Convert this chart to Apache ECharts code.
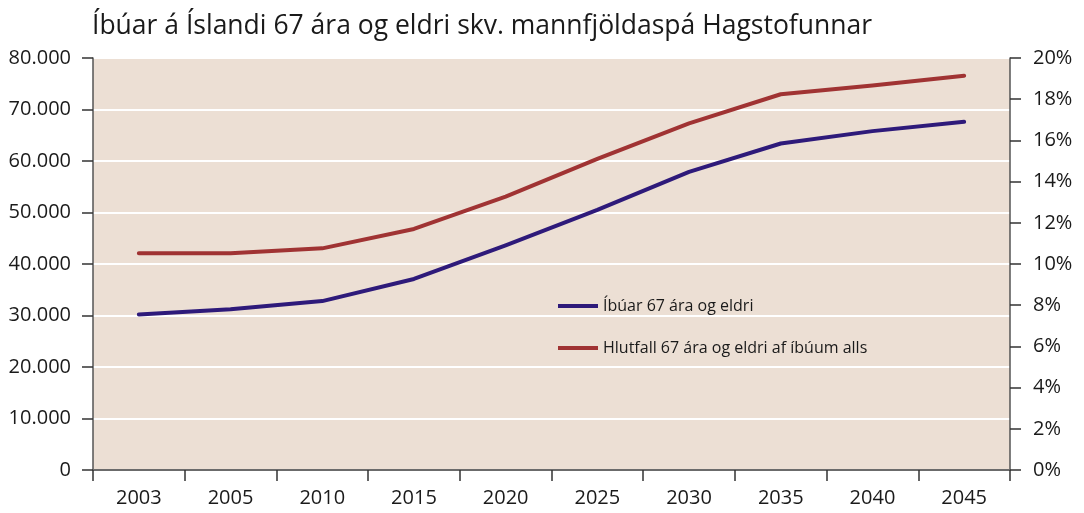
<!DOCTYPE html>
<html>
<head>
<meta charset="utf-8">
<script src="https://cdn.jsdelivr.net/npm/echarts@6/dist/echarts.min.js"></script>
<style>
html,body{margin:0;padding:0;background:#fff;}
#c{width:1084px;height:513px;}
</style>
</head>
<body>
<div id="c"></div>
<script>
const titleText = 'Íbúar á Íslandi 67 ára og eldri skv. mannfjöldaspá Hagstofunnar';
const categories = ['2003','2005','2010','2015','2020','2025','2030','2035','2040','2045'];
const seriesNames = ['Íbúar 67 ára og eldri', 'Hlutfall 67 ára og eldri af íbúum alls'];
const residents = [30200, 31200, 32800, 37100, 43600, 50500, 57900, 63400, 65800, 67600];
const sharePct = [10.52, 10.52, 10.76, 11.70, 13.27, 15.10, 16.83, 18.24, 18.67, 19.14];

const FONT = '"Open Sans", "Noto Sans", sans-serif';
const chart = echarts.init(document.getElementById('c'), null, {renderer:'canvas'});
chart.setOption({
  animation:false,
  backgroundColor:'#ffffff',
  textStyle:{fontFamily:FONT},
  title:{text:titleText,left:87,top:8,textStyle:{fontFamily:FONT,fontSize:26.5,fontWeight:'normal',color:'#1a1a1a'}},
  grid:{left:93,right:74,top:58,bottom:43,show:true,backgroundColor:'#ecdfd4',borderWidth:0},
  legend:{
    orient:'vertical',left:553,top:291,itemWidth:40,itemHeight:4,itemGap:22,icon:'rect',
    textStyle:{fontFamily:FONT,fontSize:16,color:'#1a1a1a',lineHeight:20},
    data:seriesNames
  },
  xAxis:{
    type:'category',data:categories,boundaryGap:true,
    axisLine:{lineStyle:{color:'#6b6b6b',width:2}},
    axisTick:{show:true,length:11,lineStyle:{color:'#333',width:1.5}},
    axisLabel:{fontFamily:FONT,fontSize:20,color:'#1a1a1a',margin:18},
    splitLine:{show:false}
  },
  yAxis:[{
    type:'value',min:0,max:80000,interval:10000,position:'left',
    axisLine:{show:true,lineStyle:{color:'#555',width:1.5}},
    axisTick:{show:true,length:11,lineStyle:{color:'#333',width:1.5}},
    axisLabel:{fontFamily:FONT,fontSize:20,color:'#1a1a1a',margin:22,
      formatter:v=>v===0?'0':String(v).replace(/\B(?=(\d{3})+(?!\d))/g,'.')},
    splitLine:{show:true,lineStyle:{color:'#ffffff',width:2}}
  },{
    type:'value',min:0,max:20,interval:2,position:'right',
    axisLine:{show:true,lineStyle:{color:'#555',width:1.5}},
    axisTick:{show:true,length:11,lineStyle:{color:'#333',width:1.5}},
    axisLabel:{fontFamily:FONT,fontSize:20,color:'#1a1a1a',margin:23,formatter:'{value}%'},
    splitLine:{show:false}
  }],
  series:[{
    name:seriesNames[0],type:'line',data:residents,yAxisIndex:0,
    showSymbol:false,symbol:'none',color:'#2e1a7a',
    lineStyle:{width:4,color:'#2e1a7a',cap:'round',join:'round'}
  },{
    name:seriesNames[1],type:'line',data:sharePct,yAxisIndex:1,
    showSymbol:false,symbol:'none',color:'#a03333',
    lineStyle:{width:4,color:'#a03333',cap:'round',join:'round'}
  }]
});
</script>
</body>
</html>
